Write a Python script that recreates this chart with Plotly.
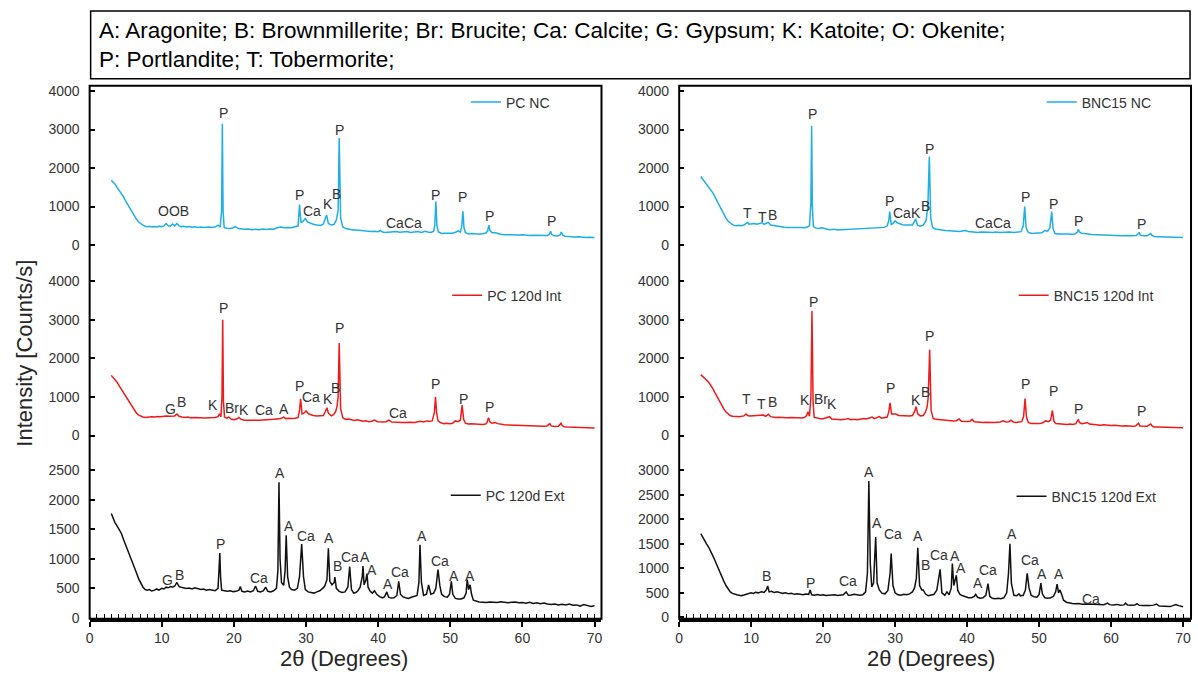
import plotly.graph_objects as go

# ---------------- data (2theta, intensity) ----------------
PC_NC = [
    (3.0,1680),(3.2,1640),(3.5,1590),(3.8,1500),(4.1,1420),(4.4,1330),(4.7,1250),(5.0,1140),(5.3,1040),
    (5.6,930),(5.9,840),(6.2,750),(6.5,670),(6.8,600),(7.1,550),(7.4,520),(7.7,490),(8.0,475),(8.3,490),
    (8.6,470),(9.0,485),(9.3,470),(9.6,490),(10.0,480),(10.3,500),(10.6,560),(10.9,500),(11.2,490),
    (11.5,550),(11.8,500),(12.1,560),(12.4,500),(12.7,480),(13.0,490),(13.4,470),(13.8,480),(14.2,465),
    (14.6,475),(15.0,460),(15.4,470),(15.8,455),(16.2,465),(16.6,470),(17.0,460),(17.4,470),(17.8,520),
    (18.1,470),(18.3,900),(18.4,3150),(18.5,900),(18.65,460),(19.0,440),(19.4,430),(19.8,445),(20.2,480),
    (20.6,430),(21.0,420),(21.5,410),(22.0,420),(22.5,400),(23.0,410),(23.5,400),(24.0,415),(24.5,405),
    (25.0,420),(25.5,410),(26.0,450),(26.5,470),(27.0,450),(27.5,460),(28.0,450),(28.5,470),(28.9,500),
    (29.1,1050),(29.3,580),(29.6,620),(29.9,690),(30.2,600),(30.6,560),(31.0,540),(31.5,520),(32.0,510),
    (32.4,540),(32.7,700),(32.85,780),(33.1,560),(33.5,520),(33.9,540),(34.2,650),(34.45,900),(34.6,2780),
    (34.8,700),(35.1,470),(35.5,430),(36.0,410),(36.5,395),(37.0,390),(37.5,380),(38.0,370),(38.5,365),
    (39.0,355),(39.5,360),(40.0,350),(40.3,380),(40.6,340),(41.0,330),(41.5,335),(42.0,330),(42.5,350),
    (43.0,335),(43.5,340),(44.0,350),(44.5,330),(45.0,345),(45.5,350),(46.0,330),(46.5,360),(46.9,340),
    (47.3,330),(47.7,360),(47.85,500),(48.0,1130),(48.15,500),(48.35,340),(48.8,300),(49.3,305),(49.8,300),
    (50.3,310),(50.8,340),(51.1,370),(51.4,340),(51.6,500),(51.75,880),(51.9,450),(52.1,320),(52.6,290),
    (53.1,300),(53.6,290),(54.1,280),(54.6,300),(55.0,320),(55.2,380),(55.35,520),(55.5,380),(55.8,320),
    (56.2,320),(56.6,290),(57.0,280),(57.5,270),(58.0,265),(58.5,275),(59.0,265),(59.5,260),(60.0,270),
    (60.5,255),(61.0,250),(61.5,255),(62.0,250),(62.5,245),(63.0,240),(63.5,250),(63.75,290),(63.9,360),
    (64.05,280),(64.4,240),(64.8,235),(65.2,260),(65.4,340),(65.6,260),(65.9,230),(66.3,220),(66.8,215),
    (67.3,210),(67.8,215),(68.3,205),(68.8,200),(69.3,205),(69.8,195),(70.0,200),
]

BNC_NC = [
    (3.0,1780),(3.2,1730),(3.5,1680),(3.8,1600),(4.1,1530),(4.4,1440),(4.7,1350),(5.0,1240),(5.3,1130),
    (5.6,1010),(5.9,900),(6.2,800),(6.5,700),(6.8,620),(7.1,570),(7.4,530),(7.7,510),(8.0,500),(8.3,515),
    (8.6,500),(9.0,520),(9.3,560),(9.5,590),(9.7,540),(10.0,550),(10.4,560),(10.8,545),(11.2,560),
    (11.5,580),(11.8,540),(12.1,560),(12.4,590),(12.7,520),(13.0,510),(13.4,490),(13.8,480),(14.2,470),
    (14.6,465),(15.0,460),(15.4,455),(15.8,460),(16.2,450),(16.6,455),(17.0,460),(17.4,450),(17.8,470),
    (18.1,500),(18.3,1100),(18.4,3100),(18.5,1000),(18.65,480),(19.0,440),(19.4,430),(19.8,450),(20.2,420),
    (20.6,410),(21.0,400),(21.5,410),(22.0,395),(22.5,400),(23.0,390),(23.5,410),(24.0,400),(24.5,415),
    (25.0,410),(25.5,420),(26.0,430),(26.5,440),(27.0,430),(27.5,450),(28.0,440),(28.5,460),(28.9,500),
    (29.1,620),(29.25,870),(29.45,540),(29.7,560),(30.0,630),(30.3,580),(30.7,550),(31.0,530),(31.5,520),
    (32.0,510),(32.4,520),(32.65,600),(32.85,680),(33.1,520),(33.5,490),(33.9,520),(34.3,640),(34.55,1000),
    (34.75,2300),(34.95,700),(35.2,460),(35.6,420),(36.0,400),(36.5,390),(37.0,380),(37.5,375),(38.0,370),
    (38.5,360),(39.0,355),(39.5,370),(39.8,380),(40.2,350),(40.6,340),(41.0,335),(41.5,330),(42.0,340),
    (42.5,330),(43.0,335),(43.5,330),(44.0,340),(44.5,330),(45.0,335),(45.5,330),(46.0,340),(46.5,330),
    (47.0,335),(47.5,350),(47.8,500),(48.0,1000),(48.2,450),(48.5,330),(49.0,300),(49.5,305),(50.0,300),
    (50.4,320),(50.8,380),(51.2,360),(51.5,450),(51.75,870),(51.95,420),(52.2,300),(52.6,290),(53.0,295),
    (53.5,285),(54.0,290),(54.5,280),(55.0,290),(55.3,330),(55.45,410),(55.6,340),(55.9,310),(56.3,300),
    (56.8,280),(57.3,275),(58.0,270),(58.5,265),(59.0,260),(59.5,265),(60.0,255),(60.5,250),(61.0,250),
    (61.5,245),(62.0,250),(62.5,240),(63.0,240),(63.5,250),(63.75,280),(63.9,320),(64.05,260),(64.5,240),
    (65.0,240),(65.3,280),(65.5,300),(65.7,250),(66.0,225),(66.5,220),(67.0,215),(67.5,210),(68.0,205),
    (68.5,210),(69.0,200),(69.5,195),(70.0,195),
]

PC_INT = [
    (3.0,1560),(3.2,1520),(3.5,1450),(3.8,1380),(4.1,1290),(4.4,1200),(4.7,1100),(5.0,1000),(5.3,910),
    (5.6,820),(5.9,730),(6.2,650),(6.5,580),(6.8,530),(7.1,500),(7.4,480),(7.7,470),(8.0,480),(8.3,470),
    (8.6,490),(9.0,480),(9.4,495),(9.8,490),(10.2,500),(10.6,510),(11.0,500),(11.4,505),(11.8,510),
    (12.1,560),(12.4,500),(12.8,480),(13.2,470),(13.6,480),(14.0,465),(14.5,470),(15.0,460),(15.5,465),
    (16.0,455),(16.5,460),(17.0,455),(17.4,470),(17.8,490),(18.0,560),(18.2,490),(18.35,1000),(18.45,3000),
    (18.55,900),(18.7,480),(19.0,450),(19.3,480),(19.6,430),(20.0,410),(20.4,430),(20.7,470),(21.0,420),
    (21.5,400),(22.0,395),(22.5,400),(23.0,395),(23.5,400),(24.0,405),(24.5,395),(25.0,410),(25.5,420),
    (26.0,430),(26.5,440),(26.9,480),(27.2,440),(27.6,450),(28.0,440),(28.5,450),(28.9,470),(29.1,650),
    (29.25,950),(29.45,560),(29.7,580),(30.0,640),(30.3,570),(30.7,540),(31.0,520),(31.5,510),(32.0,505),
    (32.4,520),(32.7,630),(32.9,720),(33.1,580),(33.5,510),(33.8,540),(34.1,620),(34.3,750),(34.45,1000),
    (34.6,2400),(34.8,700),(35.1,460),(35.5,420),(35.9,430),(36.3,400),(36.7,390),(37.1,410),(37.5,380),
    (37.9,370),(38.3,385),(38.7,360),(39.1,370),(39.5,400),(39.9,360),(40.3,350),(40.7,355),(41.1,360),
    (41.5,400),(41.9,350),(42.3,340),(42.7,345),(43.1,340),(43.5,335),(43.9,340),(44.3,345),(44.7,335),
    (45.1,340),(45.5,360),(45.9,370),(46.3,350),(46.7,380),(47.1,370),(47.5,380),(47.8,600),(47.95,1000),
    (48.1,600),(48.3,380),(48.7,330),(49.1,310),(49.5,320),(49.9,305),(50.3,320),(50.7,380),(51.1,360),
    (51.4,400),(51.65,790),(51.85,420),(52.1,320),(52.5,300),(52.9,305),(53.3,300),(53.7,290),(54.1,300),
    (54.5,290),(54.9,300),(55.1,340),(55.3,460),(55.5,350),(55.8,320),(56.2,340),(56.6,310),(57.0,290),
    (57.5,280),(58.0,275),(58.5,270),(59.0,265),(59.5,275),(60.0,260),(60.5,255),(61.0,260),(61.5,250),
    (62.0,245),(62.5,250),(63.0,240),(63.4,250),(63.65,280),(63.8,310),(64.0,250),(64.5,235),(65.0,240),
    (65.2,290),(65.35,320),(65.5,260),(65.8,230),(66.2,220),(66.7,215),(67.2,210),(67.7,205),(68.2,205),
    (68.7,200),(69.2,195),(69.7,200),(70.0,195),
]

BNC_INT = [
    (3.0,1580),(3.2,1550),(3.5,1500),(3.8,1440),(4.1,1380),(4.4,1300),(4.7,1210),(5.0,1100),(5.3,990),
    (5.6,880),(5.9,780),(6.2,690),(6.5,610),(6.8,560),(7.1,520),(7.4,500),(7.7,490),(8.0,495),(8.3,490),
    (8.6,500),(9.0,510),(9.3,560),(9.5,520),(9.8,505),(10.2,510),(10.6,500),(11.0,510),(11.4,520),
    (11.7,530),(12.0,500),(12.4,550),(12.7,490),(13.0,480),(13.4,470),(13.8,475),(14.2,465),(14.6,470),
    (15.0,460),(15.5,465),(16.0,455),(16.5,460),(17.0,455),(17.4,470),(17.7,520),(17.9,620),(18.1,500),
    (18.3,1000),(18.45,3230),(18.6,900),(18.75,470),(19.1,450),(19.5,440),(19.9,430),(20.3,450),(20.6,470),
    (20.9,490),(21.2,430),(21.6,420),(22.0,415),(22.5,410),(23.0,420),(23.5,440),(23.8,410),(24.3,420),
    (24.8,410),(25.2,430),(25.6,440),(26.0,430),(26.4,450),(26.8,480),(27.1,440),(27.5,460),(27.8,490),
    (28.1,450),(28.5,460),(28.9,480),(29.1,600),(29.3,850),(29.5,560),(29.8,550),(30.1,560),(30.5,520),
    (31.0,510),(31.5,500),(32.0,505),(32.4,520),(32.7,620),(32.9,750),(33.15,560),(33.5,510),(33.9,520),
    (34.2,600),(34.45,750),(34.6,1000),(34.8,2220),(35.0,650),(35.3,440),(35.7,420),(36.1,410),(36.5,400),
    (36.9,390),(37.3,385),(37.7,380),(38.1,375),(38.5,385),(38.9,430),(39.2,370),(39.6,360),(40.0,365),
    (40.4,370),(40.7,420),(41.0,360),(41.4,350),(41.8,345),(42.2,340),(42.6,345),(43.0,340),(43.4,335),
    (43.8,340),(44.2,345),(44.6,350),(45.0,380),(45.4,350),(45.8,360),(46.1,400),(46.4,350),(46.8,340),
    (47.2,350),(47.6,360),(47.85,500),(48.05,960),(48.25,480),(48.5,340),(48.9,310),(49.3,305),(49.7,300),
    (50.1,310),(50.5,330),(50.9,380),(51.3,360),(51.6,400),(51.85,650),(52.05,380),(52.3,310),(52.7,300),
    (53.1,305),(53.5,295),(53.9,290),(54.3,300),(54.7,290),(55.1,310),(55.3,360),(55.45,420),(55.6,340),
    (55.9,310),(56.3,320),(56.7,340),(57.0,300),(57.5,285),(58.0,280),(58.5,270),(59.0,280),(59.5,265),
    (60.0,260),(60.5,265),(61.0,255),(61.5,250),(62.0,255),(62.5,245),(63.0,240),(63.4,250),(63.65,290),
    (63.8,320),(64.0,250),(64.5,240),(65.0,245),(65.3,280),(65.5,300),(65.7,250),(66.0,225),(66.5,220),
    (67.0,215),(67.5,210),(68.0,205),(68.5,210),(69.0,200),(69.5,195),(70.0,200),
]

PC_EXT = [
    (3.0,1770),(3.2,1700),(3.5,1620),(3.8,1560),(4.1,1500),(4.4,1430),(4.7,1330),(5.0,1240),(5.3,1140),
    (5.6,1050),(5.9,960),(6.2,860),(6.5,760),(6.8,660),(7.1,580),(7.4,520),(7.7,480),(8.0,470),(8.3,480),
    (8.6,455),(9.0,470),(9.3,490),(9.6,470),(10.0,500),(10.3,490),(10.6,520),(10.9,510),(11.2,530),
    (11.5,520),(11.8,540),(12.1,600),(12.4,530),(12.7,520),(13.0,510),(13.4,500),(13.8,505),(14.2,490),
    (14.6,510),(15.0,490),(15.4,480),(15.8,490),(16.2,470),(16.6,480),(17.0,470),(17.4,460),(17.8,500),
    (17.95,800),(18.05,1100),(18.15,700),(18.3,470),(18.7,460),(19.1,450),(19.5,460),(19.9,445),(20.3,450),
    (20.7,470),(20.9,530),(21.1,450),(21.5,440),(21.9,455),(22.3,440),(22.7,460),(23.0,540),(23.3,450),
    (23.7,440),(24.1,460),(24.4,520),(24.7,450),(25.1,440),(25.5,460),(25.9,500),(26.1,800),(26.25,2300),
    (26.4,1000),(26.6,600),(26.9,550),(27.1,800),(27.25,1400),(27.45,700),(27.7,520),(28.0,480),(28.4,470),
    (28.8,500),(29.1,700),(29.4,1250),(29.65,700),(29.9,480),(30.3,440),(30.7,430),(31.1,420),(31.5,440),
    (31.9,460),(32.3,500),(32.6,540),(32.9,650),(33.1,1180),(33.3,620),(33.6,560),(33.9,600),(34.0,690),
    (34.2,500),(34.6,450),(35.0,430),(35.4,440),(35.8,520),(36.05,870),(36.3,480),(36.6,420),(36.9,430),
    (37.2,460),(37.5,520),(37.8,700),(37.9,880),(38.05,560),(38.3,640),(38.45,750),(38.6,520),(38.9,450),
    (39.2,420),(39.5,460),(39.8,400),(40.2,360),(40.6,340),(40.9,360),(41.2,440),(41.45,350),(41.8,335),
    (42.2,340),(42.6,380),(42.85,620),(43.1,400),(43.4,360),(43.8,340),(44.2,330),(44.6,350),(45.0,360),
    (45.4,380),(45.65,600),(45.8,1240),(46.0,600),(46.3,380),(46.7,400),(47.0,560),(47.3,400),(47.7,420),
    (48.0,500),(48.3,820),(48.55,550),(48.8,400),(49.2,360),(49.6,350),(49.9,400),(50.15,620),(50.35,400),
    (50.7,330),(51.1,320),(51.5,320),(51.9,340),(52.2,420),(52.35,650),(52.55,480),(52.75,560),(52.95,400),
    (53.2,300),(53.6,280),(54.0,270),(54.5,265),(55.0,260),(55.5,270),(56.0,265),(56.5,260),(57.0,275),
    (57.5,260),(58.0,255),(58.5,265),(59.0,270),(59.5,255),(60.0,260),(60.5,250),(61.0,265),(61.5,245),
    (62.0,255),(62.5,240),(63.0,250),(63.5,235),(64.0,225),(64.5,235),(65.0,220),(65.5,230),(66.0,220),
    (66.5,235),(67.0,215),(67.5,220),(68.0,200),(68.5,225),(69.0,210),(69.5,195),(70.0,205),
]

BNC_EXT = [
    (3.0,1710),(3.2,1650),(3.5,1570),(3.8,1500),(4.1,1430),(4.4,1350),(4.7,1250),(5.0,1150),(5.3,1040),
    (5.6,940),(5.9,840),(6.2,740),(6.5,650),(6.8,570),(7.1,520),(7.4,490),(7.7,470),(8.0,460),(8.3,450),
    (8.6,440),(9.0,455),(9.3,470),(9.6,480),(10.0,500),(10.3,490),(10.6,510),(11.0,500),(11.4,520),
    (11.8,510),(12.1,560),(12.3,640),(12.5,520),(12.8,530),(13.2,510),(13.6,520),(14.0,500),(14.4,490),
    (14.8,500),(15.2,480),(15.6,490),(16.0,470),(16.4,480),(16.8,470),(17.2,460),(17.6,475),(18.0,470),
    (18.2,560),(18.4,460),(18.8,450),(19.2,465),(19.6,450),(20.0,460),(20.4,445),(20.8,455),(21.2,450),
    (21.6,460),(22.0,445),(22.4,450),(22.8,460),(23.2,520),(23.5,450),(23.9,455),(24.3,470),(24.7,460),
    (25.1,450),(25.5,460),(25.9,520),(26.15,900),(26.35,2780),(26.55,1100),(26.75,620),(27.0,700),
    (27.2,1200),(27.3,1640),(27.5,700),(27.8,560),(28.2,490),(28.6,480),(29.0,550),(29.3,900),(29.45,1300),
    (29.7,650),(30.0,500),(30.4,460),(30.8,450),(31.2,470),(31.6,460),(32.0,480),(32.4,520),(32.7,600),
    (32.95,800),(33.15,1420),(33.4,650),(33.7,560),(33.9,560),(34.2,480),(34.6,440),(35.0,450),(35.4,470),
    (35.8,560),(36.1,800),(36.25,980),(36.5,500),(36.9,450),(37.2,520),(37.5,460),(37.8,600),(37.95,1100),
    (38.15,650),(38.35,820),(38.5,860),(38.7,550),(39.0,470),(39.4,440),(39.8,420),(40.2,400),(40.6,400),
    (41.0,430),(41.2,470),(41.45,410),(41.8,390),(42.2,400),(42.6,450),(42.9,690),(43.15,430),(43.5,390),
    (43.9,380),(44.3,390),(44.7,380),(45.1,400),(45.5,500),(45.75,900),(45.95,1500),(46.15,700),(46.5,450),
    (46.9,440),(47.2,480),(47.4,440),(47.8,450),(48.1,560),(48.35,900),(48.6,600),(48.9,450),(49.3,420),
    (49.7,410),(50.0,470),(50.25,700),(50.45,480),(50.8,400),(51.2,390),(51.6,400),(52.0,430),(52.3,520),
    (52.5,680),(52.7,500),(52.9,560),(53.1,480),(53.4,350),(53.8,310),(54.2,290),(54.6,285),(55.0,280),
    (55.5,285),(56.0,270),(56.5,280),(57.0,275),(57.5,270),(58.0,265),(58.5,270),(59.0,260),(59.5,290),
    (59.8,260),(60.3,255),(60.8,265),(61.3,250),(61.8,255),(62.0,290),(62.3,250),(62.8,245),(63.3,250),
    (63.6,280),(63.9,245),(64.4,240),(64.9,235),(65.4,240),(65.9,250),(66.3,270),(66.7,230),(67.2,225),
    (67.7,215),(68.2,220),(68.6,240),(69.0,260),(69.4,240),(69.8,220),(70.0,215),
]

SERIES_NAMES = ["PC NC", "BNC15 NC", "PC 120d Int", "BNC15 120d Int", "PC 120d Ext", "BNC15 120d Ext"]

# peak labels: (text, 2theta, intensity)
LBL_PC_NC = [("OOB",11.6,895),("P",18.5,3430),("P",29.1,1300),("Ca",30.8,895),("K",33.0,1066),
             ("B",34.2,1322),("P",34.6,2977),("Ca",42.4,572),("Ca",44.8,572),("P",47.9,1297),
             ("P",51.7,1253),("P",55.4,760),("P",64.0,614)]
LBL_BNC_NC = [("T",9.5,844),("T",11.6,726),("B",12.9,785),("P",18.5,3410),("P",29.2,1151),
              ("Ca",31.0,844),("K",32.9,828),("B",34.2,1015),("P",34.8,2490),("Ca",42.4,572),
              ("Ca",44.8,572),("P",48.1,1253),("P",52.0,1066),("P",55.5,614),("P",64.2,555)]
LBL_PC_INT = [("G",11.2,697),("B",12.7,868),("K",17.1,783),("P",18.5,3292),("Br",19.8,723),
              ("K",21.4,655),("Ca",24.2,672),("A",26.9,697),("P",29.05,1293),("Ca",30.7,995),
              ("K",33.0,953),("B",34.1,1234),("P",34.6,2782),("Ca",42.8,587),("P",47.96,1335),
              ("P",51.9,953),("P",55.5,740)]
LBL_BNC_INT = [("T",9.4,953),("T",11.5,825),("B",13.0,868),("K",17.5,927),("P",18.6,3463),
               ("Br",19.7,953),("K",21.2,808),("P",29.4,1234),("K",32.9,927),("B",34.2,1123),
               ("P",34.8,2570),("P",48.1,1335),("P",52.0,1148),("P",55.5,697),("P",64.2,638)]
LBL_PC_EXT = [("G",10.8,640),("B",12.5,735),("P",18.1,1252),("Ca",23.5,680),("A",26.4,2460),
              ("A",27.6,1553),("Ca",29.95,1386),("A",33.2,1347),("B",34.3,874),("Ca",36.1,1030),
              ("A",38.2,1030),("A",39.2,807),("A",41.4,568),("Ca",43.05,773),("A",46.1,1386),
              ("Ca",48.6,969),("A",50.45,707),("A",52.7,707)]
LBL_BNC_EXT = [("B",12.2,850),("P",18.2,703),("Ca",23.5,750),("A",26.4,2966),("A",27.5,1929),
               ("Ca",29.75,1708),("A",33.2,1654),("B",34.2,1071),("Ca",36.05,1272),("A",38.3,1252),
               ("A",39.2,1005),("A",41.45,703),("Ca",42.9,970),("A",46.2,1708),("Ca",48.75,1171),
               ("A",50.45,890),("A",52.7,890),("Ca",57.2,382)]

Y_TICKS_TOP = [0, 1000, 2000, 3000, 4000]
Y_TICKS_MID = [0, 1000, 2000, 3000, 4000]
Y_TICKS_BOT_L = [0, 500, 1000, 1500, 2000, 2500]
Y_TICKS_BOT_R = [0, 500, 1000, 1500, 2000, 2500, 3000]
X_TICKS = [0, 10, 20, 30, 40, 50, 60, 70]

KEY_LINE1 = "A: Aragonite; B: Brownmillerite; Br: Brucite; Ca: Calcite; G: Gypsum; K: Katoite; O: Okenite;"
KEY_LINE2 = "P: Portlandite; T: Tobermorite;"

# ---------------- layout geometry (pixels) ----------------
W, H = 1198, 684
FONT = "Liberation Sans, Arial, sans-serif"
TXT = "#333333"
BLUE, RED, BLACK = "#1EAFE8", "#F01A1A", "#111111"

def px(x):
    return x / W

def py(y):
    return 1 - y / H

COLS = {  # left px, right px, px at x=70
    "L": (86, 600, 593),
    "R": (678, 1192, 1184),
}
ROWS = {  # top px, bottom px, zero px, px per unit
    "top": (84, 263, 245.7, 0.0391),
    "mid": (263, 457, 439.0, 0.03918),
    "botL": (457, 625, 624.0, 0.05988),
    "botR": (457, 625, 623.5, 0.04977),
}

panels = [
    (PC_NC, LBL_PC_NC, "L", "top", BLUE, Y_TICKS_TOP, 53.0, 101),
    (BNC_NC, LBL_BNC_NC, "R", "top", BLUE, Y_TICKS_TOP, 51.2, 101),
    (PC_INT, LBL_PC_INT, "L", "mid", RED, Y_TICKS_MID, 50.4, 297),
    (BNC_INT, LBL_BNC_INT, "R", "mid", RED, Y_TICKS_MID, 47.3, 297),
    (PC_EXT, LBL_PC_EXT, "L", "botL", BLACK, Y_TICKS_BOT_L, 50.2, 500),
    (BNC_EXT, LBL_BNC_EXT, "R", "botR", BLACK, Y_TICKS_BOT_R, 47.0, 501),
]

fig = go.Figure()
layout = dict(
    width=W, height=H, margin=dict(l=0, r=0, t=0, b=0),
    paper_bgcolor="white", plot_bgcolor="rgba(0,0,0,0)",
    showlegend=True, font=dict(family=FONT, color=TXT, size=14),
)
annotations = []
shapes = []

for i, (data, labels, col, row, color, yt, leg_x, leg_y) in enumerate(panels):
    n = i + 1
    xs = [p[0] for p in data]
    ys = [p[1] for p in data]
    xl, xr, x70 = COLS[col]
    top, bot, zero, k = ROWS[row]
    xmax = 70 * (xr - xl) / (x70 - xl)
    yr = [-(bot - zero) / k, (zero - top) / k]
    xname = "xaxis" if n == 1 else f"xaxis{n}"
    yname = "yaxis" if n == 1 else f"yaxis{n}"
    xref = "x" if n == 1 else f"x{n}"
    yref = "y" if n == 1 else f"y{n}"
    legname = "legend" if n == 1 else f"legend{n}"
    is_bottom = row.startswith("bot")

    fig.add_trace(go.Scatter(
        x=xs, y=ys, mode="lines", name=SERIES_NAMES[i],
        line=dict(color=color, width=1.5), xaxis=xref, yaxis=yref,
        legend=legname, hoverinfo="skip",
    ))

    xa = dict(domain=[px(xl), px(xr)], range=[0, xmax], anchor=yref,
              showgrid=False, zeroline=False, fixedrange=True)
    if is_bottom:
        xa.update(showline=True, linecolor="black", linewidth=2.5,
                  tickvals=X_TICKS, ticks="outside", ticklen=5, tickwidth=1.5,
                  tickcolor="black", tickfont=dict(size=14, color=TXT, family=FONT),
                  minor=dict(dtick=1, tick0=0, ticks="inside", ticklen=5,
                             tickwidth=1.2, tickcolor="black", showgrid=False))
    else:
        xa.update(showline=False, showticklabels=False, ticks="")
    layout[xname] = xa

    layout[yname] = dict(
        domain=[py(bot), py(top)], range=yr, anchor=xref,
        showgrid=False, zeroline=False, showline=False, fixedrange=True,
        tickvals=yt, ticks="inside", ticklen=5, tickwidth=1.5, tickcolor="black",
        tickfont=dict(size=14, color=TXT, family=FONT), ticklabelstandoff=9,
    )

    layout[legname] = dict(
        x=px(xl + (leg_x / 70) * (x70 - xl) - 6), y=py(leg_y),
        xanchor="left", yanchor="middle", bgcolor="rgba(0,0,0,0)",
        borderwidth=0, font=dict(size=14, color=TXT, family=FONT),
        itemclick=False, itemdoubleclick=False,
    )

    for (t, lx, ly) in labels:
        annotations.append(dict(
            text=t, x=lx, y=ly, xref=xref, yref=yref, showarrow=False,
            xanchor="center", yanchor="middle",
            font=dict(size=14, color=TXT, family=FONT),
        ))

# panel frames
for col in ("L", "R"):
    xl, xr, _ = COLS[col]
    shapes.append(dict(type="rect", xref="paper", yref="paper",
                       x0=px(xl), x1=px(xr), y0=py(625), y1=py(84),
                       line=dict(color="black", width=2), fillcolor="rgba(0,0,0,0)"))

# key box at top
shapes.append(dict(type="rect", xref="paper", yref="paper",
                   x0=px(87), x1=px(1191), y0=py(77), y1=py(8),
                   line=dict(color="black", width=1.5), fillcolor="white"))
annotations.append(dict(text=KEY_LINE1, x=px(93), y=py(28), xref="paper", yref="paper",
                        showarrow=False, xanchor="left", yanchor="middle",
                        font=dict(size=22.5, color="black", family=FONT)))
annotations.append(dict(text=KEY_LINE2, x=px(93), y=py(57), xref="paper", yref="paper",
                        showarrow=False, xanchor="left", yanchor="middle",
                        font=dict(size=22.5, color="black", family=FONT)))

# axis titles
annotations.append(dict(text="Intensity [Counts/s]", x=px(21), y=py(355), xref="paper",
                        yref="paper", showarrow=False, textangle=-90,
                        xanchor="center", yanchor="middle",
                        font=dict(size=22, color="#262626", family=FONT)))
for cx in (341, 931):
    annotations.append(dict(text="2θ (Degrees)", x=px(cx), y=py(665), xref="paper",
                            yref="paper", showarrow=False, xanchor="center",
                            yanchor="middle", font=dict(size=22, color="#262626", family=FONT)))

layout["annotations"] = annotations
layout["shapes"] = shapes
fig.update_layout(**layout)
fig.write_html("out.html")
